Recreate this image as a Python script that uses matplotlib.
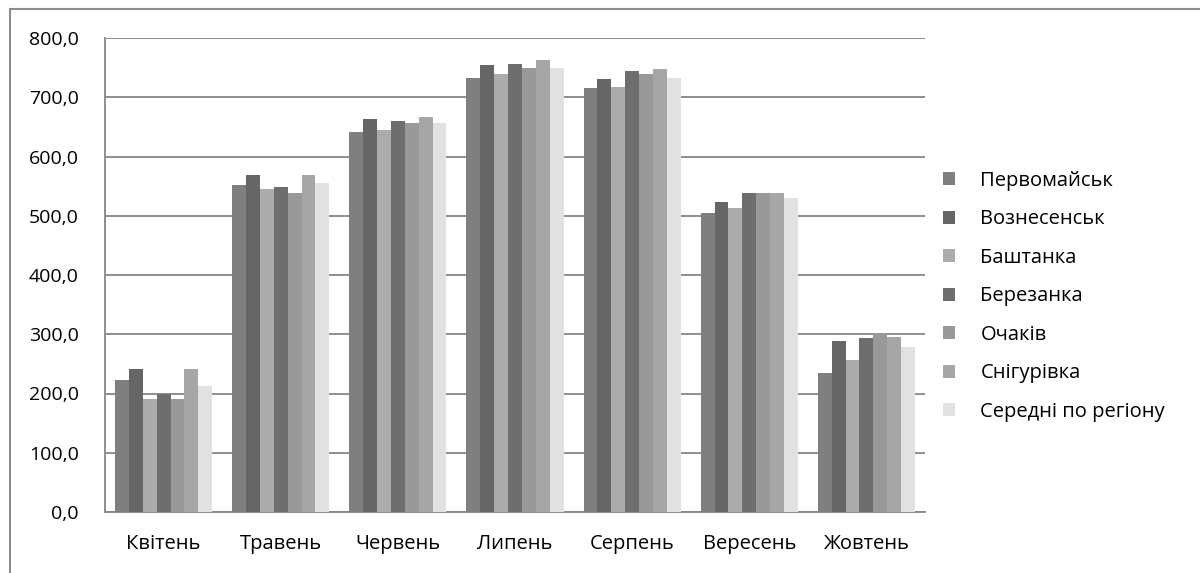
import matplotlib
matplotlib.use("Agg")
import matplotlib.pyplot as plt
import numpy as np
from matplotlib.patches import Rectangle

months = ["Квітень", "Травень", "Червень", "Липень", "Серпень", "Вересень", "Жовтень"]
series_names = ["Первомайськ", "Вознесенськ", "Баштанка", "Березанка", "Очаків", "Снігурівка", "Середні по регіону"]

pervomaisk = [222, 552, 641, 733, 715, 504, 234]
voznesensk = [241, 568, 664, 754, 731, 523, 289]
bashtanka = [190, 545, 644, 740, 718, 513, 257]
berezanka = [200, 548, 660, 756, 744, 539, 293]
ochakiv = [190, 538, 657, 750, 740, 539, 302]
snihurivka = [241, 568, 667, 763, 747, 539, 296]
average = [212, 555, 657, 750, 733, 530, 279]

series = [pervomaisk, voznesensk, bashtanka, berezanka, ochakiv, snihurivka, average]
colors = ["#7f7f7f", "#666666", "#acacac", "#6e6e6e", "#999999", "#a6a6a6", "#e1e1e1"]

plt.rcParams['font.family'] = ['Open Sans', 'DejaVu Sans']

fig = plt.figure(figsize=(12, 5.73), dpi=100)
fig.patches.append(Rectangle((10/1200, -0.05), 1.1, (1 - 9.5/573) + 0.05,
                             transform=fig.transFigure, fill=False,
                             edgecolor="#8c8c8c", linewidth=1.5))

ax = fig.add_axes([105/1200, 1 - 512/573, 820/1200, 474/573])
x = np.arange(len(months))
n = len(series)
group_w = 0.83
bw = group_w / n
for i, (vals, c, name) in enumerate(zip(series, colors, series_names)):
    ax.bar(x - group_w/2 + bw*(i + 0.5), vals, width=bw, color=c, label=name,
           edgecolor="none", zorder=3)

ax.set_xlim(-0.5, len(months) - 0.5)
ax.set_ylim(0, 800)
ax.set_yticks(np.arange(0, 801, 100))
ax.set_yticklabels([f"{v:.1f}".replace(".", ",") for v in np.arange(0, 801, 100)])
ax.set_xticks(x)
ax.set_xticklabels(months)
ax.yaxis.grid(True, color="#868686", linewidth=1.3, zorder=0)
ax.set_axisbelow(True)
for s in ["top", "right"]:
    ax.spines[s].set_visible(False)
for s in ["left", "bottom"]:
    ax.spines[s].set_color("#868686")
    ax.spines[s].set_linewidth(1.3)
ax.tick_params(axis="y", length=0, labelsize=14, colors="black", pad=19)
ax.tick_params(axis="x", length=0, labelsize=14.5, colors="black", pad=16)

leg = ax.legend(loc="center left", bbox_to_anchor=(1.0, 0.455), frameon=False,
                fontsize=14.5, handlelength=0.6, handleheight=0.6, handletextpad=1.25,
                labelspacing=0.92)

fig.savefig("out.png", dpi=100)
